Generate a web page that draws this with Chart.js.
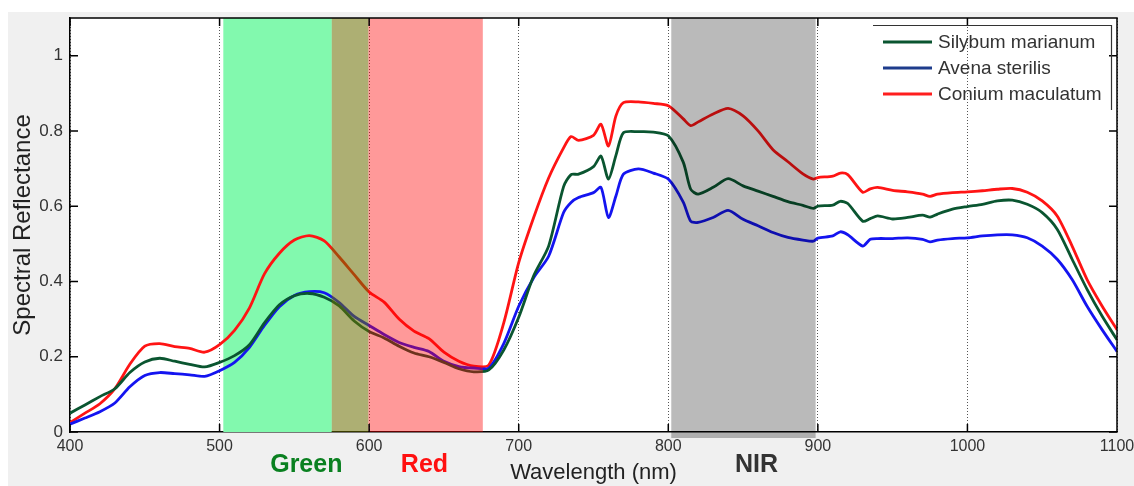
<!DOCTYPE html>
<html>
<head>
<meta charset="utf-8">
<script src="https://cdn.jsdelivr.net/npm/chart.js@4.4.1/dist/chart.umd.min.js"></script>
<style>
  html, body { margin: 0; padding: 0; background: #fff; }
  #wrap { width: 1134px; height: 486px; }
</style>
</head>
<body>
<div id="wrap"><canvas id="myChart" width="1134" height="486"></canvas></div>
<script>
const wavelengths = [400, 410, 420, 430, 440, 450, 460, 470, 480, 490, 500, 510, 520, 530, 540, 550, 560, 570, 580, 590,
  600, 610, 620, 630, 640, 650, 660, 670, 680, 690, 700, 710, 720, 730, 735, 740, 750, 755, 760, 765,
  770, 780, 790, 800, 810, 815, 820, 830, 840, 850, 860, 870, 880, 890, 897, 900, 910, 915, 920, 930,
  935, 940, 950, 960, 970, 975, 980, 990, 1000, 1010, 1020, 1030, 1040, 1050, 1060, 1070, 1080, 1090, 1100];

const silybum = [0.05, 0.072, 0.094, 0.115, 0.158, 0.186, 0.196, 0.188, 0.18, 0.173, 0.185, 0.203, 0.232, 0.29, 0.338, 0.362, 0.368, 0.358, 0.335, 0.295,
  0.267, 0.25, 0.228, 0.21, 0.2, 0.185, 0.168, 0.16, 0.165, 0.218, 0.305, 0.415, 0.494, 0.652, 0.684, 0.685, 0.705, 0.733, 0.672, 0.735,
  0.795, 0.798, 0.797, 0.787, 0.717, 0.645, 0.632, 0.65, 0.673, 0.654, 0.64, 0.626, 0.612, 0.602, 0.594, 0.6, 0.603, 0.613, 0.607, 0.56,
  0.567, 0.574, 0.566, 0.57, 0.576, 0.571, 0.579, 0.592, 0.599, 0.605, 0.614, 0.616, 0.605, 0.583, 0.539, 0.459, 0.379, 0.308, 0.245];

const avena = [0.021, 0.037, 0.054, 0.077, 0.12, 0.15, 0.158, 0.155, 0.152, 0.148, 0.163, 0.185, 0.225, 0.283, 0.333, 0.363, 0.373, 0.37, 0.344, 0.307,
  0.283, 0.259, 0.238, 0.225, 0.214, 0.188, 0.174, 0.17, 0.17, 0.235, 0.334, 0.41, 0.467, 0.583, 0.61, 0.623, 0.636, 0.65, 0.57, 0.627,
  0.685, 0.699, 0.688, 0.672, 0.611, 0.56, 0.557, 0.57, 0.589, 0.565, 0.548, 0.53, 0.517, 0.51, 0.507, 0.515, 0.521, 0.532, 0.524, 0.494,
  0.512, 0.514, 0.514, 0.516, 0.512, 0.505, 0.51, 0.514, 0.516, 0.521, 0.524, 0.524, 0.516, 0.494, 0.459, 0.405, 0.334, 0.272, 0.214];

const conium = [0.025, 0.05, 0.075, 0.115, 0.18, 0.228, 0.235, 0.227, 0.222, 0.212, 0.232, 0.27, 0.33, 0.42, 0.475, 0.51, 0.522, 0.508, 0.465, 0.418,
  0.372, 0.345, 0.3, 0.268, 0.248, 0.212, 0.188, 0.175, 0.178, 0.29, 0.45, 0.57, 0.675, 0.755, 0.785, 0.775, 0.788, 0.818, 0.76, 0.84,
  0.875, 0.877, 0.873, 0.867, 0.832, 0.814, 0.824, 0.845, 0.86, 0.84, 0.8, 0.75, 0.718, 0.686, 0.672, 0.676, 0.68, 0.688, 0.684, 0.637,
  0.646, 0.65, 0.642, 0.638, 0.632, 0.626, 0.632, 0.636, 0.638, 0.641, 0.645, 0.647, 0.637, 0.614, 0.574, 0.494, 0.405, 0.335, 0.272];

const seriesNames = ["Silybum marianum", "Avena sterilis", "Conium maculatum"];
const seriesColors = ["#0a5530", "#1414f0", "#ff1414"];
const legendColors = ["#0a5530", "#1e3c8c", "#ff1e1e"];

// spectral bands in nm: [start, end]
const greenBand = [502.5, 599.5];
const redBand = [575, 676];
const nirBand = [802, 898.5];
const bandLabels = ["Green", "Red", "NIR"];
const bandLabelPos = [558, 637, 859];
const bandLabelColors = ["#0a8020", "#ff1010", "#333333"];

const FONT = "'Liberation Sans', Arial, sans-serif";

function toPoints(ys) {
  return wavelengths.map((x, i) => ({ x: x, y: ys[i] }));
}

function fillBand(chart, from, to, color, extraBottom) {
  const c = chart.ctx, a = chart.chartArea, xs = chart.scales.x;
  const x0 = xs.getPixelForValue(from), x1 = xs.getPixelForValue(to);
  c.save();
  c.fillStyle = color;
  c.fillRect(x0, a.top, x1 - x0, a.bottom - a.top + (extraBottom || 0));
  c.restore();
}

function isMajor(v) {
  return Math.abs(v * 5 - Math.round(v * 5)) < 1e-6;
}

const decorPlugin = {
  id: "decor",
  beforeDraw(chart) {
    const c = chart.ctx, a = chart.chartArea;
    c.save();
    c.fillStyle = "#f0f0f0";
    c.fillRect(8, 12, chart.width - 8, chart.height - 12);
    c.fillStyle = "#ffffff";
    c.fillRect(a.left, a.top, a.right - a.left, a.bottom - a.top);
    c.restore();
  },
  beforeDatasetsDraw(chart) {
    // green band sits under the curves
    fillBand(chart, greenBand[0], redBand[0], "#82f9ae");
  },
  afterDatasetsDraw(chart) {
    // overlap of green and red, then red and NIR over the curves
    fillBand(chart, redBand[0], greenBand[1], "rgba(106,110,0,0.55)");
    fillBand(chart, greenBand[1], redBand[1], "rgba(255,0,0,0.4)");
    fillBand(chart, nirBand[0], nirBand[1], "rgba(0,0,0,0.27)", 6);
  },
  afterDraw(chart) {
    const c = chart.ctx, a = chart.chartArea, xs = chart.scales.x, ys = chart.scales.y;
    c.save();
    c.strokeStyle = "#000";
    c.lineWidth = 1.5;
    c.beginPath();
    c.moveTo(a.left, a.top);
    c.lineTo(a.right, a.top);
    c.lineTo(a.right, a.bottom);
    // inner tick marks
    ys.ticks.forEach(t => {
      if (!isMajor(t.value)) return;
      const y = ys.getPixelForValue(t.value);
      c.moveTo(a.left, y); c.lineTo(a.left + 8, y);
      c.moveTo(a.right, y); c.lineTo(a.right - 8, y);
    });
    xs.ticks.forEach(t => {
      const x = xs.getPixelForValue(t.value);
      c.moveTo(x, a.bottom); c.lineTo(x, a.bottom - 8);
      c.moveTo(x, a.top); c.lineTo(x, a.top + 8);
    });
    c.stroke();

    // band labels under the axis
    c.font = "bold 25px " + FONT;
    c.textAlign = "center";
    c.textBaseline = "middle";
    bandLabels.forEach((txt, i) => {
      c.fillStyle = bandLabelColors[i];
      c.fillText(txt, xs.getPixelForValue(bandLabelPos[i]), 465);
    });

    // legend
    const lx = 873, ly = 25;
    c.strokeStyle = "#333";
    c.lineWidth = 1.2;
    c.beginPath();
    c.moveTo(lx, ly + 0.5);
    c.lineTo(1111.5, ly + 0.5);
    c.lineTo(1111.5, 110);
    c.stroke();
    c.font = "19px " + FONT;
    c.textAlign = "left";
    chart.data.datasets.forEach((ds, i) => {
      const y = 43 + i * 26;
      c.strokeStyle = legendColors[i];
      c.lineWidth = 3;
      c.beginPath();
      c.moveTo(883, y - 1);
      c.lineTo(932, y - 1);
      c.stroke();
      c.fillStyle = "#333";
      c.fillText(ds.label, 938, y);
    });
    c.restore();
  }
};

const ctx = document.getElementById("myChart");
new Chart(ctx, {
  type: "line",
  data: {
    datasets: [
      { label: seriesNames[0], data: toPoints(silybum), borderColor: seriesColors[0] },
      { label: seriesNames[1], data: toPoints(avena), borderColor: seriesColors[1] },
      { label: seriesNames[2], data: toPoints(conium), borderColor: seriesColors[2] },
    ],
  },
  options: {
    responsive: false,
    animation: false,
    devicePixelRatio: 1,
    layout: { padding: { left: 0, right: 17, top: 18, bottom: 0 } },
    elements: {
      line: { borderWidth: 2.8, tension: 0.25, fill: false },
      point: { radius: 0 },
    },
    scales: {
      x: {
        type: "linear",
        min: 400,
        max: 1100,
        afterFit: (scale) => {
          scale.height = 54;
          scale.paddingLeft = 0;
          scale.paddingRight = 0;
        },
        ticks: {
          stepSize: 100,
          color: "#333",
          padding: 5,
          font: { family: FONT, size: 16 },
          callback: (v) => String(v),
        },
        grid: { color: "#555", lineWidth: 1, drawTicks: false },
        border: { display: true, color: "#000", width: 1.5, dash: [1, 2] },
        title: {
          display: true,
          text: "Wavelength (nm)",
          color: "#222",
          font: { family: FONT, size: 22 },
          padding: { top: 0, bottom: 0 },
        },
      },
      y: {
        min: 0,
        max: 1.1,
        afterFit: (scale) => { scale.width = 70; },
        ticks: {
          stepSize: 0.2,
          color: "#333",
          padding: 7,
          font: { family: FONT, size: 17 },
          callback: (v) => (isMajor(v) ? String(+v.toFixed(1)) : ""),
        },
        grid: { display: false, drawTicks: false },
        border: { display: true, color: "#000", width: 1.5 },
        title: {
          display: true,
          text: "Spectral Reflectance",
          color: "#222",
          font: { family: FONT, size: 24 },
          padding: { top: 9, bottom: 0 },
        },
      },
    },
    plugins: {
      legend: { display: false },
      tooltip: { enabled: false },
    },
  },
  plugins: [decorPlugin],
});
</script>
</body>
</html>
